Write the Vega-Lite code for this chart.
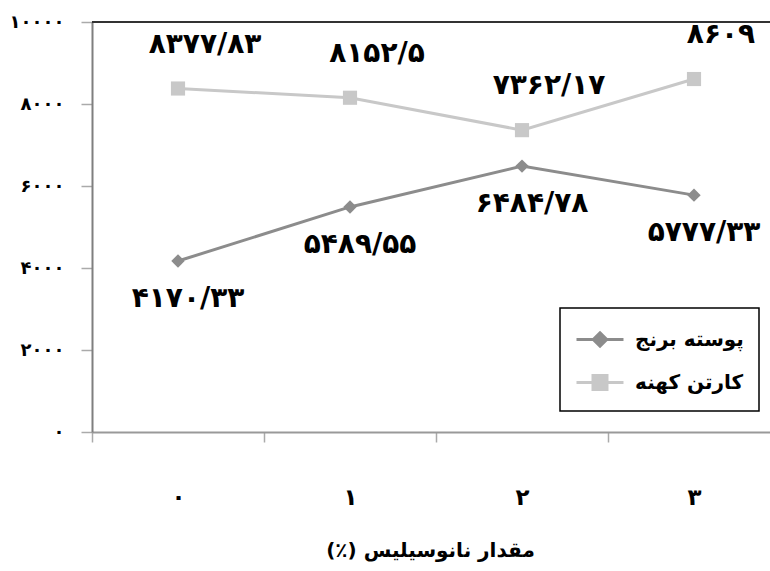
{
  "$schema": "https://vega.github.io/schema/vega-lite/v6.json",
  "width": 678,
  "height": 410,
  "autosize": {"type": "none"},
  "padding": {"left": 92, "top": 22, "right": 0, "bottom": 139},
  "background": "white",
  "config": {
    "view": {"stroke": null},
    "font": "DejaVu Sans",
    "text": {"font": "DejaVu Sans"}
  },
  "data": {
    "values": [
      {"x": "۰", "series": "پوسته برنج", "value": 4170.33, "label": "۴۱۷۰/۳۳"},
      {"x": "۱", "series": "پوسته برنج", "value": 5489.55, "label": "۵۴۸۹/۵۵"},
      {"x": "۲", "series": "پوسته برنج", "value": 6484.78, "label": "۶۴۸۴/۷۸"},
      {"x": "۳", "series": "پوسته برنج", "value": 5777.33, "label": "۵۷۷۷/۳۳"},
      {"x": "۰", "series": "کارتن کهنه", "value": 8377.83, "label": "۸۳۷۷/۸۳"},
      {"x": "۱", "series": "کارتن کهنه", "value": 8152.5, "label": "۸۱۵۲/۵"},
      {"x": "۲", "series": "کارتن کهنه", "value": 7362.17, "label": "۷۳۶۲/۱۷"},
      {"x": "۳", "series": "کارتن کهنه", "value": 8609, "label": "۸۶۰۹"}
    ]
  },
  "layer": [
    {
      "data": {"values": [{"top": 10000}]},
      "mark": {"type": "rule", "color": "#333333", "strokeWidth": 2},
      "encoding": {"y": {"field": "top", "type": "quantitative"}}
    },
    {
      "mark": {"type": "line", "strokeWidth": 3},
      "encoding": {
        "x": {
          "field": "x", "type": "nominal", "sort": ["۰", "۱", "۲", "۳"],
          "scale": {"type": "band", "range": [0, 688], "paddingInner": 0, "paddingOuter": 0},
          "axis": {
            "title": "مقدار نانوسیلیس (٪)\u200F",
            "tickBand": "extent",
            "labelAngle": 0,
            "tickSize": 10,
            "labelPadding": 44,
            "labelFontSize": 23,
            "labelFontWeight": "bold",
            "labelColor": "#000000",
            "domainColor": "#999999",
            "domainWidth": 2,
            "tickColor": "#aaaaaa",
            "tickWidth": 1.5,
            "titleFontSize": 20,
            "titleFontWeight": "bold",
            "titleColor": "#000000",
            "titlePadding": 31,
            "titleX": 338
          }
        },
        "y": {
          "field": "value", "type": "quantitative",
          "scale": {"domain": [0, 10000], "nice": false},
          "axis": {
            "title": null,
            "values": [0, 2000, 4000, 6000, 8000, 10000],
            "grid": false,
            "tickSize": 11,
            "labelPadding": 17,
            "labelFontSize": 18,
            "labelFontWeight": "bold",
            "labelColor": "#000000",
            "domainColor": "#7f7f7f",
            "domainWidth": 2,
            "tickColor": "#aaaaaa",
            "tickWidth": 1.5,
            "labelExpr": "datum.value == 0 ? '۰' : datum.value == 2000 ? '۲۰۰۰' : datum.value == 4000 ? '۴۰۰۰' : datum.value == 6000 ? '۶۰۰۰' : datum.value == 8000 ? '۸۰۰۰' : '۱۰۰۰۰'"
          }
        },
        "color": {
          "field": "series", "type": "nominal",
          "scale": {"domain": ["پوسته برنج", "کارتن کهنه"], "range": ["#8c8c8c", "#c8c8c8"]},
          "legend": {
            "title": null,
            "orient": "none",
            "legendX": 468,
            "legendY": 286,
            "strokeColor": "#000000",
            "padding": 15,
            "labelFontSize": 20,
            "labelFontWeight": "bold",
            "labelColor": "#000000",
            "labelOffset": 27,
            "rowPadding": 13,
            "symbolSize": 900,
            "symbolStrokeWidth": 3,
            "encode": {
              "legend": {"update": {"strokeWidth": {"value": 1.5}}},
              "symbols": {
                "update": {
                  "shape": {"signal": "datum.value === 'پوسته برنج' ? 'M-1,0H2.133M0.567,-0.447L1.014,0L0.567,0.447L0.12,0Z' : 'M-1,0H2.133M0.1,-0.467H1.033V0.467H0.1Z'"},
                  "fill": {"scale": "color", "field": "value"},
                  "stroke": {"scale": "color", "field": "value"},
                  "fillOpacity": {"value": 1},
                  "strokeOpacity": {"value": 1},
                  "strokeWidth": {"value": 3}
                }
              }
            }
          }
        }
      }
    },
    {
      "transform": [{"filter": "datum.series === 'پوسته برنج'"}],
      "mark": {"type": "point", "filled": true, "opacity": 1, "size": 180, "shape": "diamond", "color": "#8c8c8c"},
      "encoding": {
        "x": {"field": "x", "type": "nominal", "sort": ["۰", "۱", "۲", "۳"]},
        "y": {"field": "value", "type": "quantitative"}
      }
    },
    {
      "transform": [{"filter": "datum.series === 'کارتن کهنه'"}],
      "mark": {"type": "point", "filled": true, "opacity": 1, "size": 200, "shape": "square", "color": "#c8c8c8"},
      "encoding": {
        "x": {"field": "x", "type": "nominal", "sort": ["۰", "۱", "۲", "۳"]},
        "y": {"field": "value", "type": "quantitative"}
      }
    },
    {
      "transform": [{"filter": "datum.series === 'کارتن کهنه'"}],
      "mark": {"type": "text", "dx": 27, "dy": -44, "fontSize": 28, "fontWeight": "bold", "color": "#000000"},
      "encoding": {
        "x": {"field": "x", "type": "nominal", "sort": ["۰", "۱", "۲", "۳"]},
        "y": {"field": "value", "type": "quantitative"},
        "text": {"field": "label"}
      }
    },
    {
      "transform": [{"filter": "datum.series === 'پوسته برنج'"}],
      "mark": {"type": "text", "dx": 10, "dy": 38, "fontSize": 28, "fontWeight": "bold", "color": "#000000"},
      "encoding": {
        "x": {"field": "x", "type": "nominal", "sort": ["۰", "۱", "۲", "۳"]},
        "y": {"field": "value", "type": "quantitative"},
        "text": {"field": "label"}
      }
    }
  ]
}
